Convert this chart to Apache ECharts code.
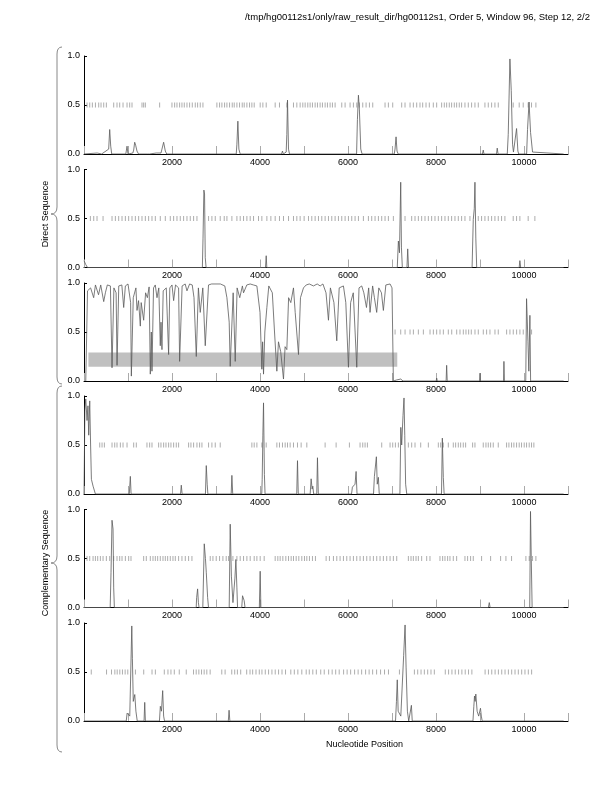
<!DOCTYPE html>
<html>
<head>
<meta charset="utf-8">
<script src="https://cdn.jsdelivr.net/npm/echarts@6/dist/echarts.min.js"></script>
<style>html,body{margin:0;padding:0;background:#fff;}#c{width:612px;height:792px;}</style>
</head>
<body>
<div id="c"></div>
<script>
// ---- data ----
const titleText = '/tmp/hg00112s1/only/raw_result_dir/hg00112s1, Order 5, Window 96, Step 12, 2/2';
const xTickLabels = [2000, 4000, 6000, 8000, 10000];
const yTickLabels = [0.0, 0.5, 1.0];

const p1Line = [[0,0],[300,0.01],[400,0],[561,0.05],[584,0.25],[607,0.08],[630,0],[950,0],[978,0.08],[1000,0],[1110,0.01],[1129,0.04],[1152,0.12],[1174,0.09],[1204,0.03],[1240,0],[1440,0],[1469,0.02],[1490,0],[1640,0.01],[1680,0],[1750,0.01],[1772,0.05],[1810,0.12],[1848,0.03],[1880,0],[2720,0],[2741,0.02],[2760,0],[3460,0],[3475,0.1],[3497,0.335],[3520,0.05],[3550,0],[4490,0],[4511,0.03],[4530,0],[4595,0.02],[4610,0.2],[4625,0.55],[4648,0.05],[4670,0],[6195,0],[6214,0.35],[6237,0.6],[6259,0.45],[6290,0.05],[6320,0],[6710,0],[6728,0.02],[6745,0],[7050,0],[7069,0.05],[7092,0.175],[7114,0.03],[7140,0],[9055,0],[9074,0.04],[9090,0],[9375,0],[9392,0.06],[9410,0],[9620,0],[9642,0.2],[9680,0.97],[9710,0.65],[9740,0.1],[9760,0.02],[9800,0],[9831,0.26],[9861,0.03],[9880,0],[10060,0],[10080,0.25],[10115,0.53],[10149,0.22],[10194,0.02],[10230,0],[10900,0]];
const p2Line = [[0,0.07],[40,0.03],[80,0],[2690,0],[2705,0.3],[2725,0.79],[2740,0.75],[2756,0.1],[2775,0],[4125,0],[4141,0.12],[4155,0],[7120,0],[7145,0.27],[7170,0.15],[7198,0.87],[7215,0.2],[7235,0],[7340,0],[7357,0.19],[7375,0],[8820,0],[8847,0.49],[8870,0.6],[8885,0.87],[8905,0.3],[8925,0],[9890,0],[9906,0.07],[9925,0],[10900,0]];
const p3Line = [[40,0],[80,0.92],[150,0.95],[220,0.85],[260,0.98],[330,0.88],[380,0.98],[448,0.81],[486,0.9],[530,0.98],[600,0.97],[637,0.135],[680,0.95],[730,0.9],[751,0.16],[790,0.97],[860,0.98],[902,0.75],[940,0.97],[1000,0.99],[1060,0.8],[1076,0.05],[1120,0.85],[1180,0.95],[1205,0.72],[1240,0.82],[1280,0.56],[1300,0.8],[1356,0.62],[1400,0.9],[1440,0.85],[1480,0.96],[1507,0.07],[1530,0.5],[1545,0.1],[1580,0.95],[1620,0.98],[1659,0.85],[1700,0.95],[1734,0.36],[1750,0.6],[1772,0.32],[1800,0.92],[1870,0.95],[1923,0.27],[1950,0.95],[2000,0.98],[2037,0.82],[2080,0.98],[2150,0.95],[2173,0.2],[2230,0.97],[2300,0.99],[2340,0.92],[2400,0.99],[2460,0.98],[2500,0.85],[2552,0.25],[2600,0.95],[2642,0.7],[2700,0.95],[2756,0.36],[2830,0.98],[2900,0.99],[3000,0.99],[3100,0.99],[3200,0.97],[3248,0.85],[3300,0.6],[3323,0.15],[3390,0.9],[3437,0.2],[3480,0.95],[3540,0.85],[3600,0.97],[3626,0.9],[3700,0.98],[3777,0.99],[3850,0.98],[3929,0.97],[4000,0.7],[4042,0.12],[4060,0.4],[4080,0.07],[4110,0.5],[4156,0.75],[4200,0.97],[4280,0.9],[4330,0.5],[4383,0.1],[4420,0.4],[4470,0.3],[4534,0.02],[4570,0.35],[4610,0.32],[4650,0.85],[4700,0.8],[4761,0.95],[4800,0.7],[4875,0.27],[4920,0.85],[4988,0.95],[5050,0.98],[5120,0.99],[5215,0.97],[5300,0.99],[5367,0.97],[5430,0.99],[5500,0.9],[5556,0.62],[5600,0.95],[5680,0.8],[5745,0.41],[5800,0.95],[5896,0.97],[5950,0.8],[6010,0.14],[6060,0.8],[6120,0.9],[6199,0.14],[6250,0.95],[6312,0.97],[6360,0.9],[6420,0.75],[6470,0.95],[6501,0.7],[6560,0.97],[6600,0.85],[6652,0.7],[6700,0.95],[6760,0.9],[6804,0.72],[6860,0.98],[6956,0.99],[7000,0.95],[7031,0],[7100,0.01],[7198,0.02],[7250,0],[8005,0],[8015,0.03],[8030,0],[8230,0],[8242,0.16],[8255,0],[8990,0],[9000,0.08],[9010,0],[9535,0],[9544,0.2],[9555,0],[10040,0],[10058,0.84],[10090,0.4],[10110,0.1],[10134,0.67],[10150,0],[10900,0]];
const p4Line = [[0,0],[20,0.85],[40,0.97],[69,0.75],[90,0.9],[107,0.6],[130,0.95],[150,0.5],[168,0.15],[206,0.08],[259,0],[1030,0],[1040,0.08],[1053,0.18],[1070,0],[1330,0],[1345,0.02],[1360,0],[2195,0],[2211,0.09],[2230,0],[2760,0],[2779,0.29],[2800,0.1],[2815,0],[3345,0],[3361,0.19],[3380,0],[4040,0],[4050,0.15],[4065,0.6],[4080,0.93],[4100,0.2],[4115,0],[4835,0],[4852,0.34],[4870,0],[5140,0],[5162,0.155],[5185,0.05],[5200,0.08],[5220,0],[5290,0],[5306,0.37],[5325,0],[6080,0],[6100,0.07],[6130,0.05],[6160,0.1],[6184,0.23],[6205,0],[6580,0],[6600,0.18],[6620,0.2],[6645,0.38],[6665,0.1],[6690,0.17],[6710,0],[7180,0],[7200,0.68],[7220,0.5],[7250,0.8],[7273,0.98],[7290,0.6],[7310,0.1],[7335,0],[8125,0],[8144,0.57],[8166,0.17],[8185,0],[10900,0]];
const p5Line = [[0,0],[595,0],[614,0.36],[637,0.89],[660,0.8],[675,0.2],[690,0],[2550,0],[2560,0.1],[2582,0.19],[2600,0.05],[2615,0],[2700,0],[2733,0.65],[2760,0.5],[2779,0.36],[2810,0.1],[2830,0],[3300,0],[3323,0.85],[3350,0.32],[3385,0.05],[3430,0.3],[3452,0.49],[3475,0.2],[3490,0],[3585,0],[3603,0.12],[3640,0.07],[3660,0],[3985,0],[4004,0.37],[4020,0],[9190,0],[9211,0.05],[9230,0],[10130,0],[10148,0.98],[10165,0.5],[10185,0],[10900,0]];
const p6Line = [[0,0],[400,0],[420,0.01],[440,0],[960,0],[980,0.08],[1000,0.1],[1040,0.05],[1086,0.97],[1100,0.64],[1120,0.2],[1154,0.27],[1180,0.1],[1210,0],[1365,0],[1380,0.19],[1395,0],[1715,0],[1735,0.15],[1760,0.1],[1788,0.31],[1810,0.05],[1830,0],[3280,0],[3297,0.11],[3315,0],[7080,0],[7101,0.2],[7120,0.42],[7140,0.1],[7200,0.05],[7244,0.05],[7265,0.67],[7297,0.98],[7320,0.55],[7350,0.1],[7380,0],[7425,0],[7441,0.16],[7460,0],[8840,0],[8860,0.15],[8875,0.255],[8890,0.2],[8905,0.275],[8935,0.1],[8970,0.05],[9011,0.13],[9030,0.05],[9050,0],[10900,0]];

const p1Dash = [69,130,190,260,334,387,448,508,675,750,811,887,978,1038,1091,1318,1356,1394,1719,1999,2060,2113,2173,2226,2279,2340,2400,2461,2529,2582,2642,2703,3020,3081,3134,3195,3248,3308,3369,3414,3475,3535,3596,3641,3702,3762,3815,3868,4004,4065,4141,4345,4443,4610,4761,4837,4912,4973,5026,5086,5139,5192,5253,5306,5366,5419,5480,5533,5593,5646,5707,5858,5934,6047,6123,6199,6259,6335,6411,6487,6562,6842,6918,7016,7220,7296,7410,7485,7561,7636,7697,7773,7848,7939,8015,8128,8189,8242,8302,8355,8416,8469,8529,8582,8658,8734,8809,8885,8961,9112,9188,9264,9339,9415,9755,9891,9982,10095,10171,10270];
const p2Dash = [145,221,296,433,637,713,788,864,940,1015,1091,1167,1242,1318,1394,1469,1545,1621,1734,1848,1961,2037,2113,2188,2264,2340,2415,2491,2567,2831,2907,2983,3096,3187,3248,3361,3475,3550,3626,3702,3777,3853,3966,4042,4156,4247,4345,4443,4534,4648,4761,4837,4912,5003,5102,5177,5253,5329,5404,5480,5556,5631,5707,5783,5858,5934,6010,6085,6161,6237,6350,6464,6539,6615,6691,6766,6842,6918,7031,7296,7447,7523,7599,7674,7750,7826,7901,7977,8053,8128,8204,8280,8355,8431,8507,8582,8658,8771,8961,9036,9112,9188,9264,9339,9415,9490,9566,9755,9831,9906,10095,10247];
const p3Dash = [7070,7198,7297,7410,7486,7599,7713,7864,7940,8015,8091,8167,8280,8357,8470,8545,8621,8681,8742,8802,8886,8961,9075,9150,9226,9340,9415,9605,9680,9756,9832,9907,9983,10172];
const p4Dash = [357,410,463,637,698,750,826,887,978,1129,1189,1431,1492,1545,1696,1749,1810,1863,1923,1976,2037,2097,2150,2377,2430,2491,2567,2627,2680,2831,2907,2983,3096,3815,3868,3929,4042,4141,4383,4443,4511,4572,4625,4685,4761,4852,4935,5064,5480,5730,6032,6274,6335,6388,6441,6766,6956,7016,7077,7145,7372,7447,7523,7652,7826,8053,8106,8166,8280,8393,8446,8507,8560,8620,8673,8832,8885,9074,9135,9188,9241,9301,9415,9604,9657,9717,9770,9831,9891,9944,10005,10058,10118,10171,10224];
const p5Dash = [69,130,206,259,311,372,433,508,584,675,750,811,864,940,1015,1068,1356,1416,1507,1568,1621,1674,1734,1795,1848,1901,1961,2022,2075,2150,2226,2302,2377,2453,2869,2930,3005,3081,3157,3232,3285,3384,3475,3550,3626,3702,3777,3868,3929,4004,4095,4345,4405,4458,4519,4587,4648,4708,4761,4822,4882,4950,5011,5064,5124,5192,5260,5503,5578,5669,5745,5820,5896,5972,6047,6123,6199,6274,6350,6426,6501,6577,6653,6728,6804,6880,6956,7031,7107,7372,7432,7485,7546,7599,7674,7788,7863,8090,8151,8204,8264,8317,8393,8469,8658,8718,8786,8847,9036,9241,9468,9589,9717,10043,10118,10194,10270];
const p6Dash = [165,512,625,701,754,814,874,935,995,1169,1357,1546,1622,1825,1908,1976,2052,2165,2324,2489,2550,2610,2671,2731,2791,2867,3131,3207,3358,3425,3486,3561,3697,3773,3833,3909,3984,4044,4120,4195,4271,4346,4422,4500,4580,4700,4780,4860,4950,5050,5120,5200,5280,5380,5460,5560,5640,5720,5800,5900,5980,6060,6150,6230,6310,6400,6480,6560,6650,6740,6830,6920,7169,7509,7584,7660,7735,7811,7886,7962,8211,8286,8362,8437,8513,8588,8664,8739,8815,9116,9192,9267,9343,9418,9494,9569,9645,9720,9796,9871,9947,10022,10098,10173];

const p3Band = [100, 7120, 0.145, 0.29]; // x start, x end, y low, y high

const lines = [p1Line, p2Line, p3Line, p4Line, p5Line, p6Line];
const dashes = [p1Dash, p2Dash, p3Dash, p4Dash, p5Dash, p6Dash];

// ---- layout ----
const tops = [56, 169.5, 283, 396, 509.5, 623];
const H = 98, L = 84, W = 484;
const FONT = 'Liberation Sans, Arial, Helvetica, sans-serif';

const grid = [], xAxis = [], yAxis = [], series = [];
tops.forEach((t, i) => {
  grid.push({left: L, top: t, width: W, height: H});
  xAxis.push({
    type: 'value', gridIndex: i, min: 0, max: 11000, interval: 1000,
    axisLine: {show: true, lineStyle: {color: '#000', width: 1}},
    axisTick: {show: true, inside: true, length: 8, lineStyle: {color: '#aaa', width: 1}},
    axisLabel: {show: true, margin: 4, fontSize: 9, color: '#000', fontFamily: FONT,
      formatter: v => xTickLabels.indexOf(v) >= 0 ? String(v) : ''},
    splitLine: {show: false}
  });
  yAxis.push({
    type: 'value', gridIndex: i, min: 0, max: 1, interval: 0.5,
    axisLine: {show: true, lineStyle: {color: '#000', width: 1}},
    axisTick: {show: true, inside: true, length: 3, lineStyle: {color: '#000'}},
    axisLabel: {show: true, margin: 4, fontSize: 9, color: '#000', fontFamily: FONT,
      formatter: v => yTickLabels.indexOf(v) >= 0 ? v.toFixed(1) : ''},
    splitLine: {show: false}
  });
  const ls = {
    type: 'line', xAxisIndex: i, yAxisIndex: i, data: lines[i],
    showSymbol: false, symbol: 'none', animation: false, z: 3,
    lineStyle: {color: '#5a5a5a', width: 0.8}
  };
  if (i === 2) {
    ls.markArea = {silent: true, itemStyle: {color: '#c0c0c0', opacity: 1},
      data: [[{coord: [p3Band[0], p3Band[2]]}, {coord: [p3Band[1], p3Band[3]]}]]};
  }
  series.push(ls);
  series.push({
    type: 'scatter', xAxisIndex: i, yAxisIndex: i,
    data: dashes[i].map(v => [v, 0.5]),
    symbol: 'rect', symbolSize: [1, 5], animation: false, z: 2,
    itemStyle: {color: '#999'}
  });
});

function brace(y0, ym, y1) {
  const xs = 57, xt = 51, xe = 62, c = 7;
  const st = {stroke: '#888', lineWidth: 1, fill: null};
  return [
    {type: 'bezierCurve', shape: {x1: xe, y1: y0, cpx1: xs, cpy1: y0, x2: xs, y2: y0 + c}, style: st},
    {type: 'line', shape: {x1: xs, y1: y0 + c, x2: xs, y2: ym - c}, style: st},
    {type: 'bezierCurve', shape: {x1: xs, y1: ym - c, cpx1: xs, cpy1: ym, x2: xt, y2: ym}, style: st},
    {type: 'bezierCurve', shape: {x1: xt, y1: ym, cpx1: xs, cpy1: ym, x2: xs, y2: ym + c}, style: st},
    {type: 'line', shape: {x1: xs, y1: ym + c, x2: xs, y2: y1 - c}, style: st},
    {type: 'bezierCurve', shape: {x1: xs, y1: y1 - c, cpx1: xs, cpy1: y1, x2: xe, y2: y1}, style: st}
  ];
}

const graphic = [
  {type: 'text', right: 22, top: 12, style: {text: titleText, font: '9.5px ' + FONT, fill: '#000'}},
  {type: 'text', left: L + W / 2, top: 740, style: {text: 'Nucleotide Position', font: '9px ' + FONT, fill: '#000', textAlign: 'center'}},
  {type: 'text', x: 46, y: 214, rotation: Math.PI / 2, style: {text: 'Direct Sequence', font: '9px ' + FONT, fill: '#000', textAlign: 'center', textVerticalAlign: 'middle'}},
  {type: 'text', x: 46, y: 563, rotation: Math.PI / 2, style: {text: 'Complementary Sequence', font: '9px ' + FONT, fill: '#000', textAlign: 'center', textVerticalAlign: 'middle'}}
].concat(brace(47, 214, 384)).concat(brace(386, 563, 752));

const chart = echarts.init(document.getElementById('c'), null, {renderer: 'canvas'});
chart.setOption({animation: false, backgroundColor: '#fff', grid, xAxis, yAxis, series, graphic});
</script>
</body>
</html>
